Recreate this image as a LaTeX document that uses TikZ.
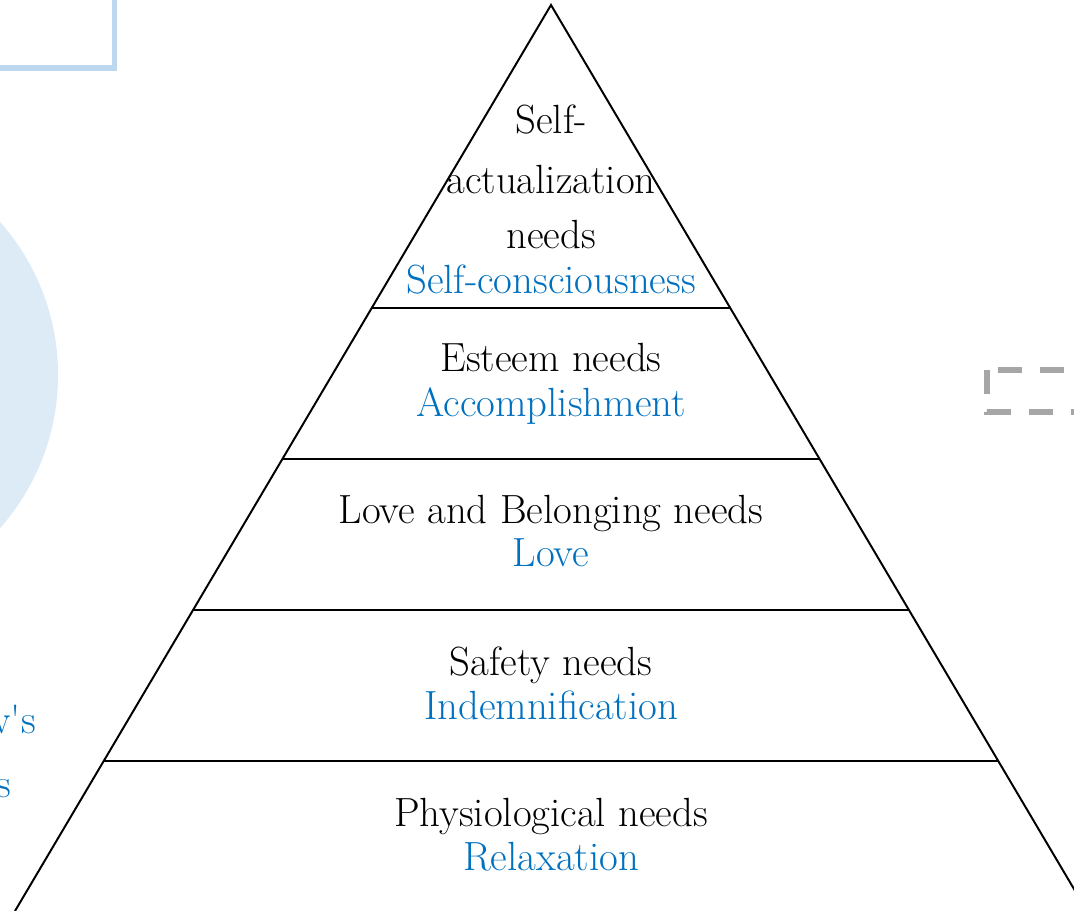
\documentclass[tikz,border=0pt]{standalone}
\usetikzlibrary{calc}
\definecolor{needblue}{HTML}{0070C0}
\definecolor{panelblue}{HTML}{BDD7EE}
\definecolor{discblue}{HTML}{DDEBF7}
\definecolor{dashgray}{HTML}{A6A6A6}
\tikzset{
    need/.style={anchor=base, font=\fontsize{29}{34}\selectfont, inner sep=0pt},
    want/.style={need, text=needblue},
    tier/.style={line width=1.4pt}
}

\begin{document}
\begin{tikzpicture}[x=0.025cm, y=-0.025cm]
    \useasboundingbox (0,0) rectangle (1074,911);
    \clip (0,0) rectangle (1074,911);

    % background pieces cut by the frame
    \fill[discblue] (-173,375) circle[radius=5.775cm];
    \draw[panelblue, line width=4.25pt] (-200,-100) rectangle (114.5,68);
    \draw[dashgray, line width=4.25pt, dash pattern=on 17pt off 12.8pt] (987,370) rectangle (1130,412);
    \node[want, anchor=base east] (title) at (36,733) {Maslow\textquotesingle s};
    \node[want, anchor=base east] (subtitle) at (11,797) {Needs};

    % pyramid
    \coordinate (apex) at (551,5);
    \coordinate (left) at (15,911);
    \coordinate (right) at (1087,911);
    \draw[tier] (left) -- (apex) -- (right);
    \foreach \t in {0.3344,0.5011,0.6678,0.8344}
        \draw[tier] ($(apex)!\t!(left)$) -- ($(apex)!\t!(right)$);

    \node[need] (self1) at (551,134) {Self-};
    \node[need] (self2) at (551,194) {actualization};
    \node[need] (self3) at (551,249) {needs};
    \node[want] (selfsub) at (551,294) {Self-consciousness};
    \node[need] (esteem) at (551,372) {Esteem needs};
    \node[want] (esteemsub) at (551,417) {Accomplishment};
    \node[need] (love) at (551,524) {Love and Belonging needs};
    \node[want] (lovesub) at (551,567) {Love};
    \node[need] (safety) at (551,675) {Safety needs};
    \node[want] (safetysub) at (551,720) {Indemnification};
    \node[need] (body) at (551,826) {Physiological needs};
    \node[want] (bodysub) at (551,870) {Relaxation};
\end{tikzpicture}
\end{document}
